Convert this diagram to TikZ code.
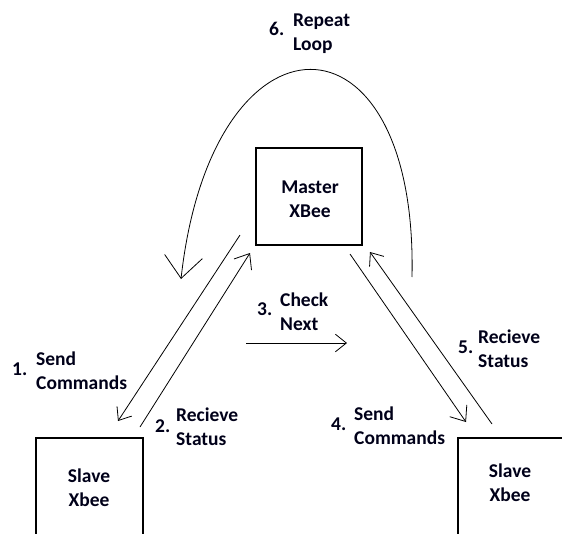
\documentclass[tikz,border=0pt]{standalone}
\usepackage{fontspec}
\setmainfont{Carlito}
\usetikzlibrary{arrows.meta}
\begin{document}
\begin{tikzpicture}[x=1pt,y=-1pt,
  box/.style={draw, line width=1.2pt, inner sep=0pt},
  lbl/.style={font=\bfseries\fontsize{19.5}{24}\selectfont, inner sep=0pt, align=left, anchor=base west, text=black!90!blue},
  ctr/.style={font=\bfseries\fontsize{19.5}{24}\selectfont, inner sep=0pt, align=center, anchor=base, text=black!90!blue},
  num/.style={font=\bfseries\fontsize{19.5}{24}\selectfont, inner sep=0pt, anchor=base west, text=black!90!blue},
  conn/.style={line width=0.8pt},
  tipA/.style={-{Straight Barb[length=#1, width=1.6*#1]}},
  ]
\useasboundingbox[fill=white] (0,0) rectangle (562,533);

% boxes
\node[box, minimum width=106pt, minimum height=97pt] (master) at (309,196.5) {};
\node[box, minimum width=107pt, minimum height=110pt] (slaveL) at (89.5,493) {};
\node[box, minimum width=115pt, minimum height=110pt] (slaveR) at (515.5,493) {};

% box texts
\node[ctr] (masterT) at (310,217) {Master\\XBee};
\node[ctr] (slaveLT) at (89,506) {Slave\\Xbee};
\node[ctr] (slaveRT) at (510,501) {Slave\\Xbee};

% step labels
\node[num] (n6) at (269,35) {6.};
\node[lbl] (l6) at (293,50) {Repeat\\Loop};
\node[num] (n3) at (257,315) {3.};
\node[lbl] (l3) at (280,330) {Check\\Next};
\node[num] (n1) at (12,375) {1.};
\node[lbl] (l1) at (36,389) {Send\\Commands};
\node[num] (n2) at (155,432) {2.};
\node[lbl] (l2) at (176,445) {Recieve\\Status};
\node[num] (n4) at (331,430) {4.};
\node[lbl] (l4) at (354,444) {Send\\Commands};
\node[num] (n5) at (458,353) {5.};
\node[lbl] (l5) at (478,367) {Recieve\\Status};

% connector end points
\coordinate (a1s) at (240,235);
\coordinate (a1e) at (118,421);
\coordinate (a2s) at (140,427);
\coordinate (a2e) at (250,253);
\coordinate (a3s) at (246,343);
\coordinate (a3e) at (347,343);
\coordinate (a4s) at (350,254);
\coordinate (a4e) at (466,422);
\coordinate (a5s) at (492,424);
\coordinate (a5e) at (370,252);
\coordinate (lps) at (412,277);
\coordinate (lpe) at (181,279);

% connectors
\draw[conn, tipA=11pt] (a1s) -- (a1e);
\draw[conn, tipA=13pt] (a2s) -- (a2e);
\draw[conn, tipA=11pt] (a3s) -- (a3e);
\draw[conn, tipA=13pt] (a4s) -- (a4e);
\draw[conn, tipA=11pt] (a5s) -- (a5e);
\draw[conn, -{Straight Barb[length=22pt, width=38pt]}] (lps) .. controls (418,0) and (212,0) .. (lpe);
\end{tikzpicture}
\end{document}
